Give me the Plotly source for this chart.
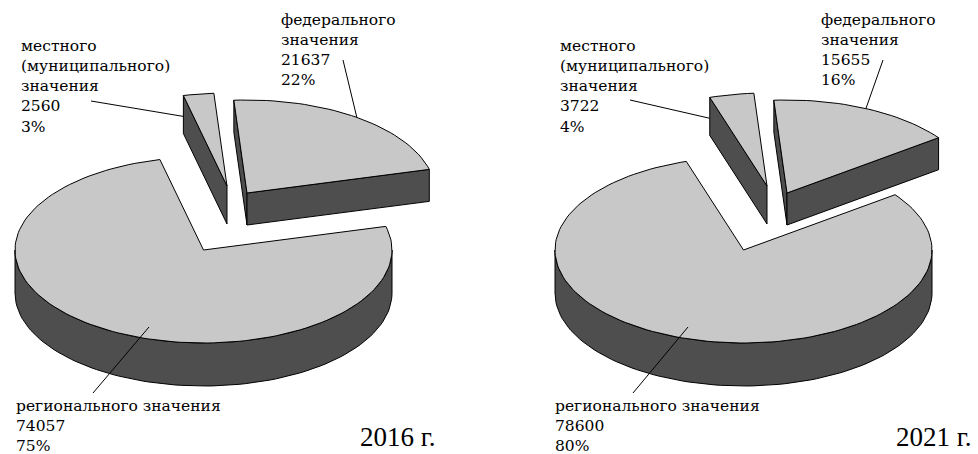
import numpy as np
import plotly.graph_objects as go

# ---------------- data ----------------
categories = ["федерального значения", "регионального значения", "местного (муниципального) значения"]
years = ["2016 г.", "2021 г."]
values_2016 = [21637, 74057, 2560]
values_2021 = [15655, 78600, 3722]
pct_2016 = ["22%", "75%", "3%"]
pct_2021 = ["16%", "80%", "4%"]

# ---------------- style / layout ----------------
W, H = 978, 454
FONT = "DejaVu Serif"
YEAR_FONT = "Liberation Serif"
TOP = "#C8C8C8"
SIDE = "#4E4E4E"
A, B = 188.5, 93.0          # ellipse half-axes (px)
START_DEG = -4.0             # first slice starts near 12 o'clock, clockwise
pie_centers = [(203.5, 250.0), (743.5, 250.0)]
slice_offset = [(43.5, -57.0), (0.0, 0.0), (23.5, -64.0)]   # explosion per slice
slice_depth = [32.0, 43.0, 38.0]

# label boxes (top-left corner) and leader-line start points, per pie
label_pos = [
    [(279, 9), (14, 395), (19, 35)],
    [(819, 9), (553, 395), (558, 35)],
]
leader_start = [
    [(343, 60), (93, 393), (91, 101)],
    [(883, 60), (633, 393), (630, 100)],
]
regional_leader_end = [(149, 327), (688, 327)]
year_pos = [(437, 453), (973, 453)]

label_text = [
    "федерального<br>значения",
    "регионального значения",
    "местного<br>(муниципального)<br>значения",
]


def pt(cx, cy, phi, h=0.0):
    return cx + A * np.sin(phi), cy - B * np.cos(phi) + h


def arc(cx, cy, p1, p2, h=0.0, n=None):
    if n is None:
        n = max(2, int(abs(p2 - p1) / np.radians(2)) + 2)
    ph = np.linspace(p1, p2, n)
    return cx + A * np.sin(ph), cy - B * np.cos(ph) + h


fig = go.Figure()


def poly(xs, ys, color):
    xs = list(xs) + [xs[0]]
    ys = list(ys) + [ys[0]]
    fig.add_trace(go.Scatter(x=xs, y=ys, mode="lines", fill="toself",
                             fillcolor=color, line=dict(color="black", width=1),
                             hoverinfo="skip", showlegend=False))


for pi, vals in enumerate([values_2016, values_2021]):
    total = float(sum(vals))
    bcx, bcy = pie_centers[pi]
    slices = []
    acc = np.radians(START_DEG)
    for i, v in enumerate(vals):
        span = 2 * np.pi * v / total
        p1, p2 = acc, acc + span
        acc = p2
        cx, cy = bcx + slice_offset[i][0], bcy + slice_offset[i][1]
        slices.append((cy, i, cx, p1, p2))
    geo = {}
    # painter's order: back (higher on screen) first
    for cy, i, cx, p1, p2 in sorted(slices):
        geo[i] = (cx, cy, p1, p2)
        d = slice_depth[i]
        if np.sin(p1) < 0:
            x1, y1 = pt(cx, cy, p1)
            poly([cx, x1, x1, cx], [cy, y1, y1 + d, cy + d], SIDE)
        if np.sin(p2) > 0:
            x2, y2 = pt(cx, cy, p2)
            poly([cx, x2, x2, cx], [cy, y2, y2 + d, cy + d], SIDE)
        for k in range(-1, 3):
            lo = np.pi / 2 + 2 * np.pi * k
            hi = 3 * np.pi / 2 + 2 * np.pi * k
            s, e = max(p1, lo), min(p2, hi)
            if e > s:
                tx, ty = arc(cx, cy, s, e)
                bx, by = arc(cx, cy, s, e, d)
                poly(np.concatenate([tx, bx[::-1]]), np.concatenate([ty, by[::-1]]), SIDE)
        tx, ty = arc(cx, cy, p1, p2)
        poly(np.concatenate([[cx], tx]), np.concatenate([[cy], ty]), TOP)

    # leader-line end points taken from the slice geometry
    cx, cy, p1, p2 = geo[0]
    fed_end = pt(cx, cy, 0.5 * (p1 + p2))
    cx, cy, p1, p2 = geo[2]
    lx_, ly_ = pt(cx, cy, p1)
    loc_end = (lx_, ly_ + 0.55 * slice_depth[2])
    ends = [fed_end, regional_leader_end[pi], loc_end]

    pcts = [pct_2016, pct_2021][pi]
    for i, v in enumerate(vals):
        (lx0, ly0), (lx1, ly1) = leader_start[pi][i], ends[i]
        fig.add_shape(type="line", x0=lx0, y0=ly0, x1=float(lx1), y1=float(ly1),
                      xref="x", yref="y", line=dict(color="black", width=1))
        lx, ly = label_pos[pi][i]
        fig.add_annotation(x=lx, y=ly, xref="x", yref="y", xanchor="left", yanchor="top",
                           align="left", showarrow=False,
                           text=f"{label_text[i]}<br>{v}<br>{pcts[i]}",
                           font=dict(family=FONT, size=15.5, color="black"))
    yx, yy = year_pos[pi]
    fig.add_annotation(x=yx, y=yy, xref="x", yref="y", xanchor="right", yanchor="bottom",
                       showarrow=False, text=years[pi], borderpad=0,
                       font=dict(family=YEAR_FONT, size=27, color="black"))

fig.update_layout(
    width=W, height=H, margin=dict(l=0, r=0, t=0, b=0),
    paper_bgcolor="white", plot_bgcolor="white",
    xaxis=dict(range=[0, W], visible=False, fixedrange=True),
    yaxis=dict(range=[H, 0], visible=False, fixedrange=True),
    showlegend=False,
)
fig.write_html("out.html", config={"displayModeBar": False},
               post_script="document.body.style.margin='0px';document.body.style.overflow='hidden';")
